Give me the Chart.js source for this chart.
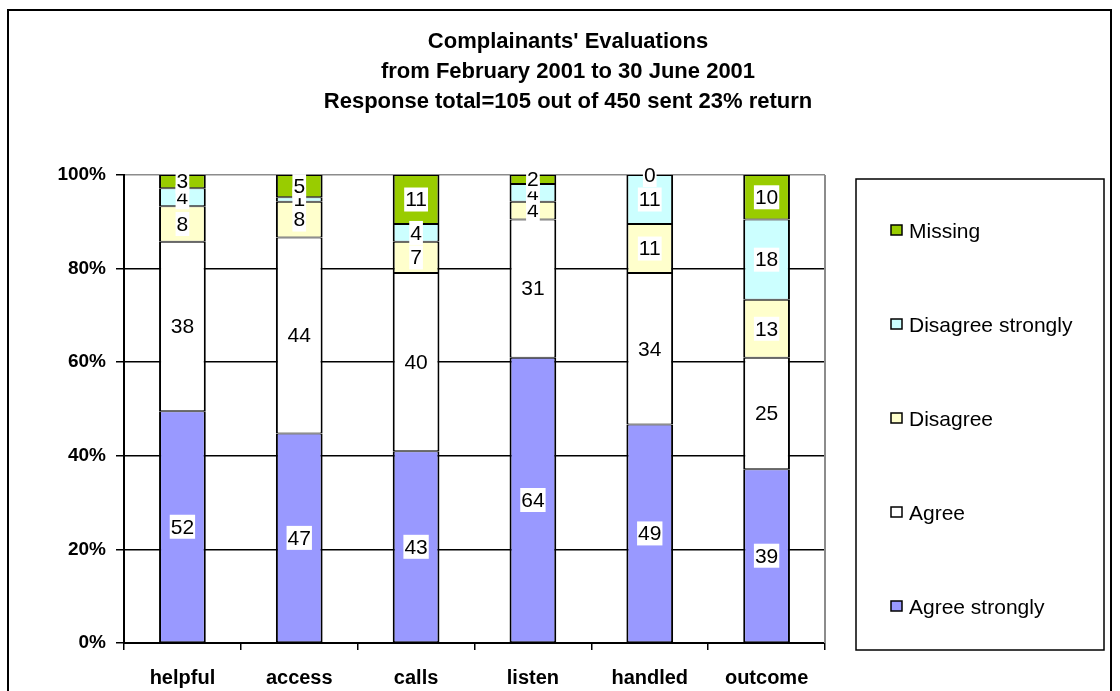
<!DOCTYPE html>
<html>
<head>
<meta charset="utf-8">
<script src="https://cdn.jsdelivr.net/npm/chart.js@4.4.1/dist/chart.umd.min.js"></script>
<style>
  html, body { margin: 0; padding: 0; background: #fff; }
  #wrap { width: 1120px; height: 691px; position: relative; }
</style>
</head>
<body>
<div id="wrap"><canvas id="evalChart" width="1120" height="691"></canvas></div>
<script>
// survey questions along the x axis
const categories = ['helpful', 'access', 'calls', 'listen', 'handled', 'outcome'];

// response counts per answer (105 replies per question)
const agreeStrongly    = [52, 47, 43, 64, 49, 39];
const agree            = [38, 44, 40, 31, 34, 25];
const disagree         = [8, 8, 7, 4, 11, 13];
const disagreeStrongly = [4, 1, 4, 4, 11, 18];
const missing          = [3, 5, 11, 2, 0, 10];

const responseTotal = 105;
const yTicks = [0, 20, 40, 60, 80, 100];

const titleLines = [
    "Complainants' Evaluations",
    'from February 2001 to 30 June 2001',
    'Response total=105 out of 450 sent 23% return'
];

const FONT = "'Liberation Sans', Arial, sans-serif";

const seriesDefs = [
    { label: 'Agree strongly', data: agreeStrongly, color: '#9999FF' },
    { label: 'Agree', data: agree, color: '#FFFFFF' },
    { label: 'Disagree', data: disagree, color: '#FFFFCC' },
    { label: 'Disagree strongly', data: disagreeStrongly, color: '#CCFFFF' },
    { label: 'Missing', data: missing, color: '#99CC00' }
];

// frame, title, plot edge and the boxed legend
const decorPlugin = {
    id: 'decor',
    beforeDraw(chart) {
        const ctx = chart.ctx;
        ctx.save();
        ctx.fillStyle = '#fff';
        ctx.fillRect(0, 0, chart.width, chart.height);
        ctx.strokeStyle = '#000';
        ctx.lineWidth = 2;
        ctx.strokeRect(8, 10, 1103, 700);
        ctx.restore();
    },
    afterDraw(chart) {
        const ctx = chart.ctx;
        const area = chart.chartArea;
        ctx.save();

        // grey right edge of the plot area
        ctx.strokeStyle = '#8c8c8c';
        ctx.lineWidth = 2;
        ctx.beginPath();
        ctx.moveTo(area.right, area.top);
        ctx.lineTo(area.right, area.bottom);
        ctx.stroke();

        // title
        ctx.fillStyle = '#000';
        ctx.font = 'bold 22px ' + FONT;
        ctx.textAlign = 'center';
        ctx.textBaseline = 'middle';
        titleLines.forEach((t, i) => ctx.fillText(t, 568, 42 + i * 30));

        // legend box
        ctx.strokeStyle = '#000';
        ctx.lineWidth = 1.5;
        ctx.strokeRect(856, 179, 248, 471);
        ctx.font = '21px ' + FONT;
        ctx.textAlign = 'left';
        const items = [...seriesDefs].reverse();
        items.forEach((s, i) => {
            const y = 231 + i * 94;
            ctx.fillStyle = s.color;
            ctx.fillRect(891, y - 6, 11, 10);
            ctx.strokeRect(891, y - 6, 11, 10);
            ctx.fillStyle = '#000';
            ctx.fillText(s.label, 909, y + 1);
        });
        ctx.restore();
    }
};

// count labels centred in each segment on a white patch
const valueLabels = {
    id: 'valueLabels',
    afterDatasetsDraw(chart) {
        const ctx = chart.ctx;
        ctx.save();
        ctx.font = '21px ' + FONT;
        ctx.textAlign = 'center';
        ctx.textBaseline = 'middle';
        chart.data.datasets.forEach((ds, di) => {
            const meta = chart.getDatasetMeta(di);
            meta.data.forEach((bar, i) => {
                const txt = String(ds.data[i]);
                const cy = (bar.y + bar.base) / 2;
                const w = ctx.measureText(txt).width + 2;
                ctx.fillStyle = '#fff';
                ctx.fillRect(bar.x - w / 2, cy - 12, w, 24);
                ctx.fillStyle = '#000';
                ctx.fillText(txt, bar.x, cy + 1);
            });
        });
        ctx.restore();
    }
};

new Chart(document.getElementById('evalChart'), {
    type: 'bar',
    data: {
        labels: categories,
        datasets: seriesDefs.map(s => ({
            label: s.label,
            data: s.data,
            backgroundColor: s.color,
            borderColor: '#000',
            borderWidth: { left: 2, right: 2, top: 1, bottom: 1 },
            borderSkipped: false,
            barPercentage: 0.4,
            categoryPercentage: 1
        }))
    },
    options: {
        responsive: false,
        animation: false,
        events: [],
        layout: { padding: { top: 175, right: 295, left: 0, bottom: 0 } },
        plugins: {
            legend: { display: false },
            title: { display: false },
            tooltip: { enabled: false }
        },
        scales: {
            x: {
                stacked: true,
                offset: true,
                grid: { offset: true, drawOnChartArea: false, drawTicks: true, tickLength: 7, color: '#000', lineWidth: 1.5 },
                border: { color: '#000', width: 2 },
                ticks: { color: '#000', padding: 16, font: { family: FONT, size: 20, weight: 'bold' } },
                afterFit(scale) { scale.height = 48; }
            },
            y: {
                stacked: true,
                min: 0,
                max: responseTotal,
                afterBuildTicks(scale) {
                    scale.ticks = yTicks.map(p => ({ value: p * responseTotal / 100 }));
                },
                grid: {
                    color: ctx => (ctx.tick && ctx.tick.value === responseTotal ? '#8c8c8c' : '#000'),
                    lineWidth: 1.5,
                    tickLength: 8,
                    tickColor: '#000'
                },
                border: { color: '#000', width: 2 },
                ticks: {
                    color: '#000',
                    padding: 10,
                    font: { family: FONT, size: 19, weight: 'bold' },
                    callback: v => Math.round(v / responseTotal * 100) + '%'
                },
                afterFit(scale) { scale.width = 124; }
            }
        }
    },
    plugins: [decorPlugin, valueLabels]
});
</script>
</body>
</html>
